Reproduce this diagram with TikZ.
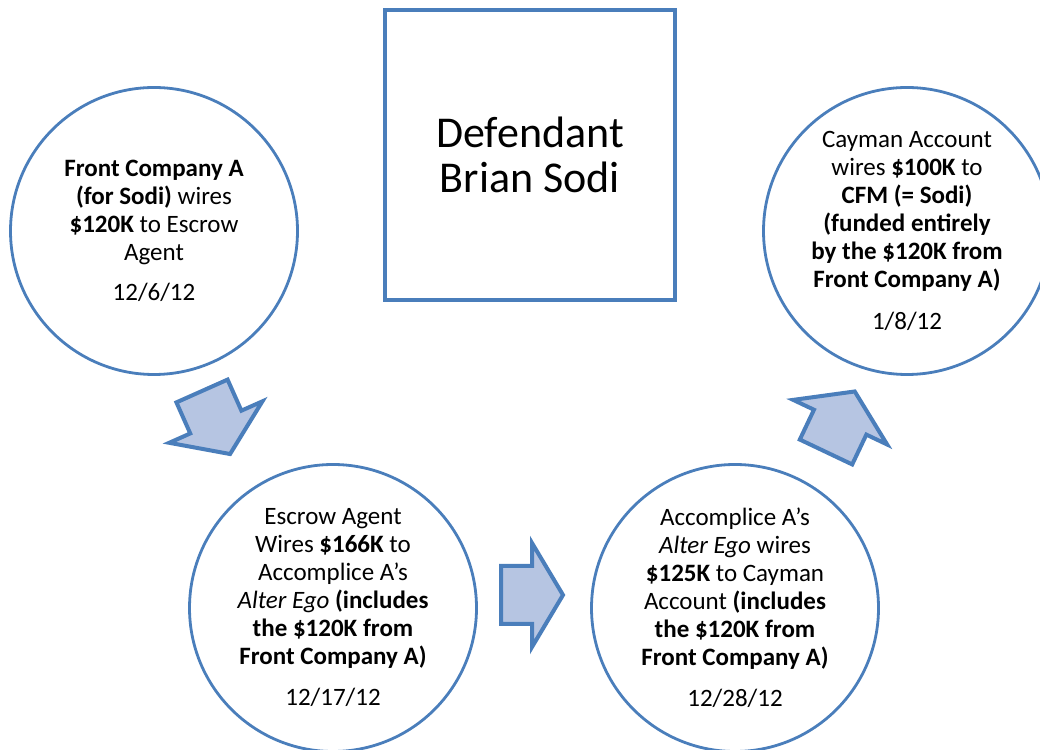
\documentclass[tikz,border=0pt]{standalone}
\usepackage{fontspec}
\setmainfont{Carlito}
\definecolor{bline}{RGB}{74,126,187}
\definecolor{bfill}{RGB}{182,197,226}
\begin{document}
\begin{tikzpicture}[x=1pt,y=1pt,
  stage/.style={circle, draw=bline, line width=2.8pt, minimum size=287pt, inner sep=0pt, align=center, font=\fontsize{25}{28}\selectfont},
  blockarrow/.style={draw=bline, fill=bfill, line width=4pt, line join=miter}]
\useasboundingbox (0,0) rectangle (1040,749);
\node[draw=bline, line width=4pt, minimum width=290pt, minimum height=290pt, inner sep=0pt, align=center, font=\fontsize{44}{45}\selectfont] (def) at (530,594) {Defendant\\Brian Sodi};
\node[stage] (s1) at (154,518) {\textbf{Front Company A}\\ \textbf{(for Sodi)} wires\\ \textbf{\$120K} to Escrow\\ Agent\\[12pt] 12/6/12};
\node[stage] (s2) at (333,141) {Escrow Agent\\ Wires \textbf{\$166K} to\\ Accomplice A’s\\ \textit{Alter Ego} \textbf{(includes}\\ \textbf{the \$120K from}\\ \textbf{Front Company A)}\\[13pt] 12/17/12};
\node[stage] (s3) at (735,141) {Accomplice A’s\\ \textit{Alter Ego} wires\\ \textbf{\$125K} to Cayman\\ Account \textbf{(includes}\\ \textbf{the \$120K from}\\ \textbf{Front Company A)}\\[13pt] 12/28/12};
\node[stage] (s4) at (907,518) {Cayman Account\\ wires \textbf{\$100K} to\\ \textbf{CFM (= Sodi)}\\ \textbf{(funded entirely}\\ \textbf{by the \$120K from}\\ \textbf{Front Company A)}\\[14pt] 1/8/12};
\draw[blockarrow, shift={(202,358)}, rotate=-66] (0,-28) -- (34,-28) -- (34,-51) -- (69,0) -- (34,51) -- (34,28) -- (0,28) -- cycle;
\draw[blockarrow, shift={(501,154)}] (0,-29) -- (31,-29) -- (31,-52) -- (62,0) -- (31,52) -- (31,29) -- (0,29) -- cycle;
\draw[blockarrow, shift={(826,297)}, rotate=64.6] (0,-29) -- (33,-29) -- (33,-52) -- (67,0) -- (33,52) -- (33,29) -- (0,29) -- cycle;
\end{tikzpicture}
\end{document}
